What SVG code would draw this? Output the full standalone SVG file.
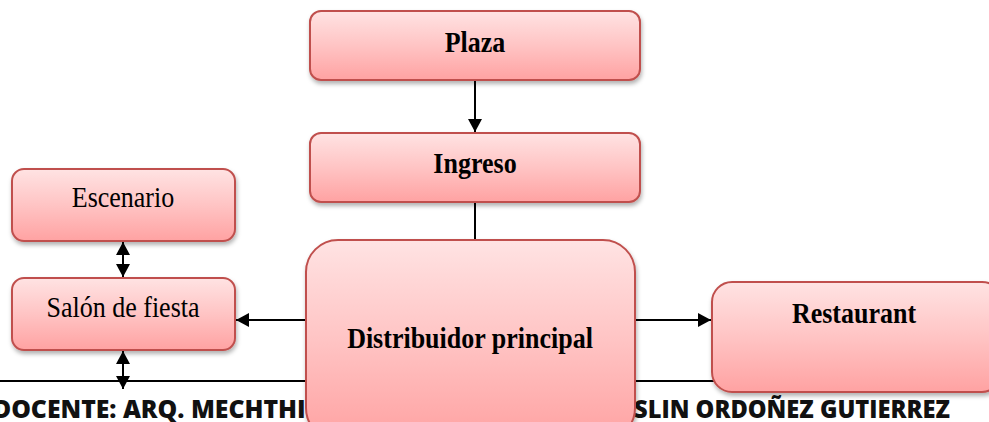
<svg xmlns="http://www.w3.org/2000/svg" width="989" height="422" viewBox="0 0 989 422">
<style>
.box{fill:url(#g);stroke:#c0504d;stroke-width:2;filter:url(#sh)}
.t{font-family:"Liberation Serif","Times New Roman",serif;font-size:26px;fill:#000;text-anchor:middle}
.b{font-weight:bold}
.foot{font-family:"Open Sans","Liberation Sans",sans-serif;font-weight:800;font-size:24px;fill:#111}
.c{stroke:#000;stroke-width:2;fill:none}
</style>
<defs>
<linearGradient id="g" x1="0" y1="0" x2="0" y2="1">
<stop offset="0" stop-color="#ffe3e3"/>
<stop offset="0.5" stop-color="#ffc4c4"/>
<stop offset="1" stop-color="#ffa2a2"/>
</linearGradient>
<filter id="sh" x="-10%" y="-10%" width="120%" height="130%">
<feDropShadow dx="1" dy="3" stdDeviation="2" flood-color="#000" flood-opacity="0.3"/>
</filter>
<marker id="ah" markerUnits="userSpaceOnUse" markerWidth="16" markerHeight="16" refX="13" refY="8" orient="auto-start-reverse">
<path d="M0,1 L13,8 L0,15 Z" fill="#000"/>
</marker>
</defs>
<g id="page">
<line x1="0" y1="381" x2="989" y2="381" stroke="#000" stroke-width="2"/>
<text class="foot" x="-7" y="418" textLength="327" lengthAdjust="spacingAndGlyphs">DOCENTE: ARQ. MECHTHIL</text>
<text class="foot" x="634" y="418" textLength="316" lengthAdjust="spacingAndGlyphs">SLIN ORDOÑEZ GUTIERREZ</text>
</g>
<g id="connectors">
<line class="c" x1="475" y1="81" x2="475" y2="132" marker-end="url(#ah)"/>
<line class="c" x1="475" y1="203" x2="475" y2="241"/>
<line class="c" x1="307" y1="320" x2="236" y2="320" marker-end="url(#ah)"/>
<line class="c" x1="635" y1="320" x2="711" y2="320" marker-end="url(#ah)"/>
<line class="c" x1="123" y1="242" x2="123" y2="277" marker-start="url(#ah)" marker-end="url(#ah)"/>
<line class="c" x1="123" y1="351" x2="123" y2="389" marker-start="url(#ah)" marker-end="url(#ah)"/>
</g>
<g id="plaza">
<rect class="box" x="310" y="11" width="330" height="69" rx="11"/>
<text class="t b" transform="translate(475,52) scale(1,1.12)">Plaza</text>
</g>
<g id="ingreso">
<rect class="box" x="310" y="133" width="330" height="69" rx="11"/>
<text class="t b" transform="translate(475,173) scale(1,1.12)">Ingreso</text>
</g>
<g id="escenario">
<rect class="box" x="12" y="169" width="223" height="72" rx="12"/>
<text class="t" transform="translate(123,207) scale(1,1.12)">Escenario</text>
</g>
<g id="salon">
<rect class="box" x="12" y="278" width="223" height="72" rx="12"/>
<text class="t" transform="translate(123,317) scale(1,1.12)">Salón de fiesta</text>
</g>
<g id="distribuidor">
<rect class="box" x="306" y="240" width="329" height="200" rx="32"/>
<text class="t b" transform="translate(470,348) scale(1,1.12)">Distribuidor principal</text>
</g>
<g id="restaurant">
<rect class="box" x="712" y="282" width="290" height="110" rx="20"/>
<text class="t b" transform="translate(854,323) scale(1,1.12)">Restaurant</text>
</g>
</svg>
